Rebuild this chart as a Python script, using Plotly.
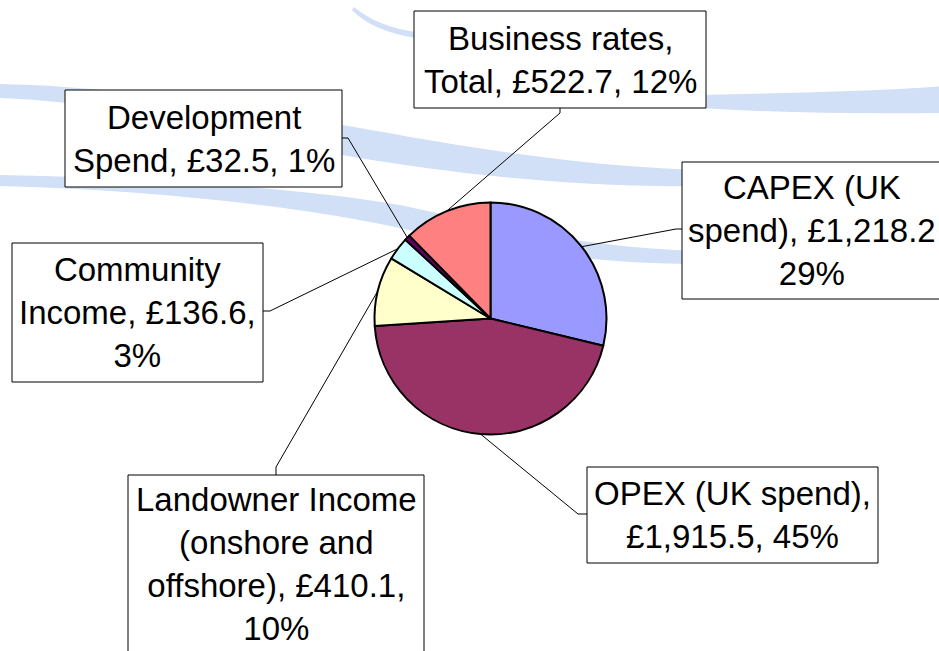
import math
import plotly.graph_objects as go

# ---- data -------------------------------------------------------------
categories = [
    "CAPEX (UK spend)",
    "OPEX (UK spend)",
    "Landowner Income (onshore and offshore)",
    "Community Income",
    "Development Spend",
    "Business rates, Total",
]
values = [1218.2, 1915.5, 410.1, 136.6, 32.5, 522.7]
colors = ["#9999FF", "#993366", "#FFFFCC", "#CCFFFF", "#660066", "#FF8080"]

# label wording, with the line breaks used in each callout
label_templates = [
    "CAPEX (UK<br>spend), {v}<br>{p}",
    "OPEX (UK spend),<br>{v}, {p}",
    "Landowner Income<br>(onshore and<br>offshore), {v},<br>{p}",
    "Community<br>Income, {v},<br>{p}",
    "Development<br>Spend, {v}, {p}",
    "Business rates,<br>Total, {v}, {p}",
]

# ---- page geometry (pixels, y measured from the top) ------------------
W, H = 939, 651
PIE_CX, PIE_CY, PIE_R = 490.5, 318.5, 116.0

# callout boxes: x0, y0, x1, y1
boxes = [
    (682, 162, 952, 299),
    (587, 467, 878, 563),
    (128, 475, 424, 653),
    (12, 243, 263, 382),
    (65, 90, 342, 187),
    (414, 11, 706, 108),
]
# horizontal centre of the text inside each box
text_cx = [812, 732.5, 276, 137.5, 203.5, 560]
# leader-line start on each box, plus the short stub offset
stubs = [
    (682, 229, -6, 0),
    (587, 514, -9, 0),
    (276, 475, 0, -8),
    (263, 311, 7, 0),
    (342, 138, 6, 0),
    (560, 108, 0, 5),
]


def px(x):
    return x / W


def py(y):
    return 1 - y / H


total = sum(values)
pcts = [f"{round(v / total * 100)}%" for v in values]
texts = [t.format(v=f"£{v:,.1f}", p=p) for t, v, p in zip(label_templates, values, pcts)]

fig = go.Figure()
fig.add_trace(
    go.Pie(
        labels=categories,
        values=values,
        sort=False,
        direction="clockwise",
        rotation=0,
        textinfo="none",
        hoverinfo="label+value+percent",
        marker=dict(colors=colors, line=dict(color="black", width=2)),
        domain=dict(
            x=[px(PIE_CX - PIE_R), px(PIE_CX + PIE_R)],
            y=[py(PIE_CY + PIE_R), py(PIE_CY - PIE_R)],
        ),
        showlegend=False,
    )
)

shapes = []

# pale blue swooshes in the background
BAND = "#D1E0F6"

bands = [
    # upper sweep from the left edge towards the right callout
    "M {} {} C {} {} {} {} {} {} C {} {} {} {} {} {} "
    "L {} {} C {} {} {} {} {} {} C {} {} {} {} {} {} Z".format(
        px(0), py(84), px(120), py(86), px(260), py(110), px(342), py(125),
        px(430), py(140), px(560), py(166), px(700), py(170),
        px(700), py(186), px(560), py(188), px(430), py(170), px(342), py(155),
        px(260), py(138), px(120), py(102), px(0), py(98),
    ),
    # lower sweep
    "M {} {} C {} {} {} {} {} {} C {} {} {} {} {} {} "
    "L {} {} C {} {} {} {} {} {} C {} {} {} {} {} {} Z".format(
        px(0), py(175), px(150), py(178), px(300), py(188), px(400), py(205),
        px(480), py(222), px(580), py(248), px(700), py(251),
        px(700), py(264), px(580), py(264), px(480), py(245), px(400), py(228),
        px(300), py(206), px(150), py(190), px(0), py(186),
    ),
    # thin arc near the top
    "M {} {} Q {} {} {} {} L {} {} Q {} {} {} {} Z".format(
        px(354), py(7), px(378), py(27), px(416), py(32),
        px(416), py(38), px(372), py(31), px(352), py(10),
    ),
    # band on the right, between the top callout and the edge
    "M {} {} C {} {} {} {} {} {} L {} {} C {} {} {} {} {} {} Z".format(
        px(700), py(95), px(780), py(93), px(860), py(92), px(945), py(86),
        px(945), py(113), px(860), py(114), px(780), py(113), px(700), py(108),
    ),
]
for d in bands:
    shapes.append(
        dict(type="path", xref="paper", yref="paper", path=d,
             fillcolor=BAND, line=dict(width=0), layer="below")
    )

# leader lines from each callout to the middle of its slice
cum = 0.0
for i, v in enumerate(values):
    mid = (cum + v / 2) / total * 2 * math.pi
    cum += v
    ex = PIE_CX + PIE_R * math.sin(mid)
    ey = PIE_CY - PIE_R * math.cos(mid)
    sx, sy, dx, dy = stubs[i]
    shapes.append(
        dict(type="path", xref="paper", yref="paper",
             path=f"M {px(sx)} {py(sy)} L {px(sx + dx)} {py(sy + dy)} L {px(ex)} {py(ey)}",
             line=dict(color="black", width=1), layer="above")
    )

# callout boxes
for (x0, y0, x1, y1) in boxes:
    shapes.append(
        dict(type="rect", xref="paper", yref="paper",
             x0=px(x0), x1=px(x1), y0=py(y1), y1=py(y0),
             fillcolor="white", line=dict(color="black", width=1), layer="above")
    )

annotations = []
for (x0, y0, x1, y1), cx, t in zip(boxes, text_cx, texts):
    annotations.append(
        dict(xref="paper", yref="paper",
             x=px(cx), y=py((y0 + y1) / 2),
             xanchor="center", yanchor="middle",
             text=t, showarrow=False, align="center",
             font=dict(family="Liberation Sans, Arial, sans-serif", size=33, color="black"))
    )

fig.update_layout(
    width=W,
    height=H,
    margin=dict(l=0, r=0, t=0, b=0),
    paper_bgcolor="white",
    plot_bgcolor="white",
    shapes=shapes,
    annotations=annotations,
)

fig.write_html("out.html")
